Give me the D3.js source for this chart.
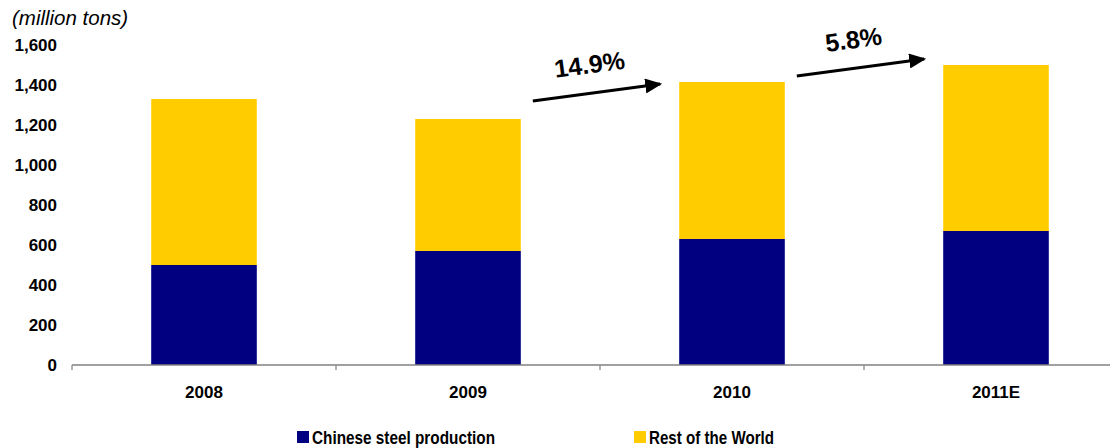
<!DOCTYPE html>
<html>
<head>
<meta charset="utf-8">
<script src="https://cdn.jsdelivr.net/npm/d3@7"></script>
<style>
html,body{margin:0;padding:0;background:#fff;}
svg{display:block;font-family:Arial,"Liberation Sans",sans-serif;}
</style>
</head>
<body>
<svg id="chart" width="1110" height="448"></svg>
<script>
const categories = ["2008", "2009", "2010", "2011E"];
const chinese = [500, 570, 630, 670];
const restOfWorld = [830, 660, 785, 830];
const yTicks = [0, 200, 400, 600, 800, 1000, 1200, 1400, 1600];
const seriesNames = ["Chinese steel production", "Rest of the World"];
const growthLabels = ["14.9%", "5.8%"];
const growthFrom = ["2009", "2010"];
const growthTo = ["2010", "2011E"];

const colors = ["#000080", "#FFCC00"];
const svg = d3.select("#chart");

const x = d3.scaleBand().domain(categories).range([72, 1128]).paddingInner(0.6).paddingOuter(0.3);
const y = d3.scaleLinear().domain([0, 1600]).range([365, 45]);

const rows = categories.map((c, i) => ({cat: c, chinese: chinese[i], rest: restOfWorld[i]}));
const stack = d3.stack().keys(["chinese", "rest"])(rows);

svg.append("g").selectAll("g").data(stack).join("g")
  .attr("fill", (d, i) => colors[i])
  .selectAll("rect").data(d => d).join("rect")
  .attr("x", d => x(d.data.cat))
  .attr("width", x.bandwidth())
  .attr("y", d => y(d[1]))
  .attr("height", d => y(d[0]) - y(d[1]));

// x axis line
const step = x.step();
const axisG = svg.append("g");
axisG.append("line").attr("x1", 72).attr("x2", 1128).attr("y1", y(0)).attr("y2", y(0))
  .attr("stroke", "#808080").attr("stroke-width", 1.5);
axisG.selectAll("line.tk").data(d3.range(categories.length + 1)).join("line")
  .attr("class", "tk")
  .attr("x1", i => 72 + i * step).attr("x2", i => 72 + i * step)
  .attr("y1", y(0)).attr("y2", y(0) + 5)
  .attr("stroke", "#808080").attr("stroke-width", 1.2);

axisG.selectAll("text.cat").data(categories).join("text")
  .attr("class", "cat")
  .attr("x", d => x(d) + x.bandwidth() / 2)
  .attr("y", 398)
  .attr("text-anchor", "middle")
  .attr("font-weight", "bold").attr("font-size", 17)
  .text(d => d);

// y labels
svg.append("g").selectAll("text").data(yTicks).join("text")
  .attr("x", 57).attr("y", d => y(d) + 6)
  .attr("text-anchor", "end")
  .attr("font-weight", "bold").attr("font-size", 17)
  .text(d => d3.format(",")(d));

svg.append("text").attr("x", 12).attr("y", 25)
  .attr("font-style", "italic").attr("font-size", 20.5)
  .text("(million tons)");

// arrows
const defs = svg.append("defs");
defs.append("marker").attr("id", "ah").attr("viewBox", "0 0 17 15")
  .attr("refX", 15).attr("refY", 7.5).attr("markerWidth", 17).attr("markerHeight", 15)
  .attr("markerUnits", "userSpaceOnUse")
  .attr("orient", "auto")
  .append("path").attr("d", "M0,0L17,7.5L0,15Z").attr("fill", "#000");

growthLabels.forEach((lab, i) => {
  const x1 = x(growthFrom[i]) + x.bandwidth() + 12;
  const x2 = x(growthTo[i]) - 19;
  const y1 = y(i === 0 ? 1320 : 1445);
  const y2 = y(i === 0 ? 1405 : 1530);
  svg.append("line").attr("x1", x1).attr("y1", y1).attr("x2", x2).attr("y2", y2)
    .attr("stroke", "#000").attr("stroke-width", 3).attr("marker-end", "url(#ah)");
  const cx = (x1 + x2) / 2 - 7;
  const cy = (y1 + y2) / 2 - 28;
  const ang = Math.atan2(y2 - y1, x2 - x1) * 180 / Math.PI;
  svg.append("text").attr("transform", `translate(${cx},${cy}) rotate(${ang})`)
    .attr("text-anchor", "middle").attr("dy", "0.35em")
    .attr("font-weight", "bold").attr("font-size", 25)
    .text(lab);
});

// legend
const legX = [297, 634];
const legW = [183, 125];
const leg = svg.append("g").selectAll("g").data(seriesNames).join("g")
  .attr("transform", (d, i) => `translate(${legX[i]},431)`);
leg.append("rect").attr("width", 12).attr("height", 12).attr("fill", (d, i) => colors[i]);
leg.append("text").attr("x", 15).attr("y", 12.5)
  .attr("font-weight", "bold").attr("font-size", 18)
  .attr("textLength", (d, i) => legW[i]).attr("lengthAdjust", "spacingAndGlyphs")
  .text(d => d);
</script>
</body>
</html>
